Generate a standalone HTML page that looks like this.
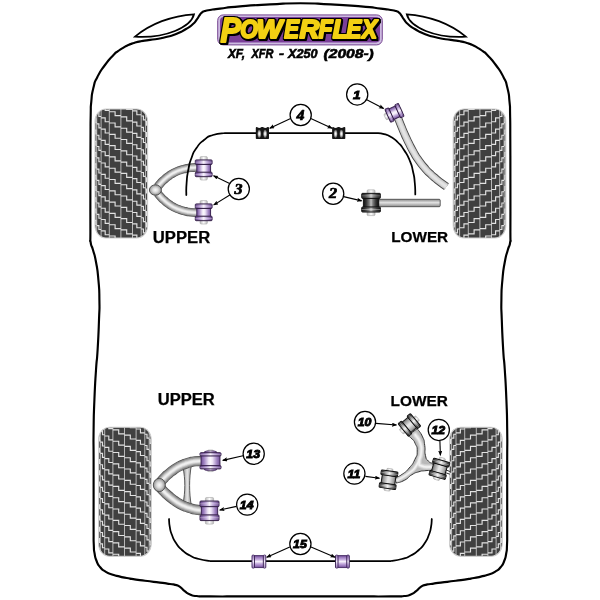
<!DOCTYPE html>
<html lang="en"><head><meta charset="utf-8"><title>Powerflex XF, XFR - X250 (2008-)</title>
<style>
html,body{margin:0;padding:0;background:#fff;}
body{width:600px;height:600px;overflow:hidden;}
svg{display:block;will-change:transform;}
text{font-family:"Liberation Sans",sans-serif;}
</style></head><body>
<svg width="600" height="600" viewBox="0 0 600 600">
<defs>
<linearGradient id="gP" x1="0" x2="1" y1="0" y2="0">
 <stop offset="0" stop-color="#5a3d7e"/><stop offset=".13" stop-color="#8462a8"/><stop offset=".32" stop-color="#b9a0d5"/>
 <stop offset=".5" stop-color="#f7f2fc"/><stop offset=".68" stop-color="#b9a0d5"/><stop offset=".87" stop-color="#8462a8"/>
 <stop offset="1" stop-color="#5a3d7e"/></linearGradient>
<linearGradient id="gPv" x1="0" x2="0" y1="0" y2="1">
 <stop offset="0" stop-color="#5d3f7c"/><stop offset=".18" stop-color="#8763a8"/>
 <stop offset=".5" stop-color="#ece2f6"/><stop offset=".82" stop-color="#8763a8"/>
 <stop offset="1" stop-color="#5d3f7c"/></linearGradient>
<linearGradient id="gD" x1="0" x2="1" y1="0" y2="0">
 <stop offset="0" stop-color="#141414"/><stop offset=".11" stop-color="#404040"/><stop offset=".3" stop-color="#9c9c9c"/>
 <stop offset=".5" stop-color="#ededed"/><stop offset=".7" stop-color="#9c9c9c"/><stop offset=".89" stop-color="#404040"/>
 <stop offset="1" stop-color="#141414"/></linearGradient>
<linearGradient id="gDw" x1="0" x2="1" y1="0" y2="0">
 <stop offset="0" stop-color="#5e5e5e"/><stop offset=".14" stop-color="#9a9a9a"/><stop offset=".45" stop-color="#e8e8e8"/>
 <stop offset=".6" stop-color="#e0e0e0"/><stop offset=".86" stop-color="#a6a6a6"/><stop offset="1" stop-color="#6e6e6e"/></linearGradient>
<linearGradient id="gPw" x1="0" x2="1" y1="0" y2="0">
 <stop offset="0" stop-color="#6f4f95"/><stop offset=".16" stop-color="#a083c2"/><stop offset=".4" stop-color="#efe6f7"/>
 <stop offset=".5" stop-color="#fbf8fd"/><stop offset=".6" stop-color="#efe6f7"/><stop offset=".84" stop-color="#a083c2"/><stop offset="1" stop-color="#6f4f95"/></linearGradient>
<linearGradient id="gK" x1="0" x2="1" y1="0" y2="0">
 <stop offset="0" stop-color="#0e0e0e"/><stop offset=".18" stop-color="#343434"/><stop offset=".38" stop-color="#7c7c7c"/>
 <stop offset=".5" stop-color="#c4c4c4"/><stop offset=".62" stop-color="#7c7c7c"/><stop offset=".82" stop-color="#343434"/>
 <stop offset="1" stop-color="#0e0e0e"/></linearGradient>
<linearGradient id="gShine" x1="0" x2="0" y1="0" y2="1">
 <stop offset="0" stop-color="#000" stop-opacity=".35"/><stop offset=".3" stop-color="#fff" stop-opacity="0"/>
 <stop offset=".5" stop-color="#fff" stop-opacity=".38"/><stop offset=".7" stop-color="#fff" stop-opacity="0"/>
 <stop offset="1" stop-color="#000" stop-opacity=".35"/></linearGradient>
<radialGradient id="gB4" cx=".5" cy=".5" r=".5">
 <stop offset="0" stop-color="#ffffff"/><stop offset=".35" stop-color="#e0e0e0"/><stop offset=".75" stop-color="#7a7a7a"/>
 <stop offset="1" stop-color="#2a2a2a"/></radialGradient>
<linearGradient id="gPl" x1="0" x2="1" y1="0" y2="0">
 <stop offset="0" stop-color="#6c4a92"/><stop offset=".14" stop-color="#9a78bd"/><stop offset=".32" stop-color="#c4aadd"/>
 <stop offset=".5" stop-color="#f8f3fc"/><stop offset=".68" stop-color="#c4aadd"/><stop offset=".86" stop-color="#9a78bd"/>
 <stop offset="1" stop-color="#6c4a92"/></linearGradient>
<linearGradient id="gS" x1="0" x2="1" y1="0" y2="0">
 <stop offset="0" stop-color="#b8b8b8"/><stop offset=".5" stop-color="#ffffff"/>
 <stop offset="1" stop-color="#b8b8b8"/></linearGradient>
<linearGradient id="gBar" x1="0" x2="0" y1="0" y2="1">
 <stop offset="0" stop-color="#8a8a8a"/><stop offset=".45" stop-color="#e2e2e2"/>
 <stop offset="1" stop-color="#8a8a8a"/></linearGradient>
<radialGradient id="gBall" cx=".5" cy=".5" r=".62">
 <stop offset="0" stop-color="#fafafa"/><stop offset=".35" stop-color="#dcdcdc"/><stop offset=".7" stop-color="#a2a2a2"/>
 <stop offset="1" stop-color="#5a5a5a"/></radialGradient>
<linearGradient id="gY" x1="0" x2="1" y1="0" y2="0">
 <stop offset="0" stop-color="#8d8d8d"/><stop offset=".5" stop-color="#e6e6e6"/>
 <stop offset="1" stop-color="#9a9a9a"/></linearGradient>
<pattern id="tread" width="23.4" height="11.5" patternUnits="userSpaceOnUse" patternTransform="translate(106.4,132)">
 <rect width="23.4" height="11.5" fill="#414141"/>
 <path d="M3,0V11.5M14.7,0V11.5M3,1H8V4.7H14.7M14.7,6.75H20.3V10.45H23.4M0,10.45H3" fill="none" stroke="#d6d6d6" stroke-width="1.25"/>
</pattern>
<pattern id="treadR" width="23.4" height="11.5" patternUnits="userSpaceOnUse" patternTransform="translate(494.4,132) scale(-1,1)">
 <rect width="23.4" height="11.5" fill="#414141"/>
 <path d="M3,0V11.5M14.7,0V11.5M3,1H8V4.7H14.7M14.7,6.75H20.3V10.45H23.4M0,10.45H3" fill="none" stroke="#d6d6d6" stroke-width="1.25"/>
</pattern>
<pattern id="tread2" width="23.4" height="11.5" patternUnits="userSpaceOnUse" patternTransform="translate(109.9,450)">
 <rect width="23.4" height="11.5" fill="#414141"/>
 <path d="M3,0V11.5M14.7,0V11.5M3,1H8V4.7H14.7M14.7,6.75H20.3V10.45H23.4M0,10.45H3" fill="none" stroke="#d6d6d6" stroke-width="1.25"/>
</pattern>
<pattern id="tread2R" width="23.4" height="11.5" patternUnits="userSpaceOnUse" patternTransform="translate(490.9,450) scale(-1,1)">
 <rect width="23.4" height="11.5" fill="#414141"/>
 <path d="M3,0V11.5M14.7,0V11.5M3,1H8V4.7H14.7M14.7,6.75H20.3V10.45H23.4M0,10.45H3" fill="none" stroke="#d6d6d6" stroke-width="1.25"/>
</pattern>
<marker id="ah" markerWidth="6" markerHeight="5" refX="4.6" refY="2.1" orient="auto" markerUnits="userSpaceOnUse">
 <path d="M0,0L5.4,2.1L0,4.2L1,2.1Z" fill="#000"/></marker>
</defs>
<rect width="600" height="600" fill="#fff"/>

<path d="M300.40,3.20 C280.13,3.20 290.13,3.33 270.00,4.40 C249.87,5.47 256.67,5.00 240.00,6.40 C223.33,7.80 230.00,7.40 220.00,8.60 C210.00,9.80 215.10,9.17 210.00,10.00 C204.90,10.83 207.53,10.13 204.70,11.10 C201.87,12.07 203.30,11.37 201.50,12.90 C199.70,14.43 200.90,13.43 199.30,15.70 C197.70,17.97 198.90,16.83 196.70,19.70 C194.50,22.57 196.27,21.20 192.70,24.30 C189.13,27.40 191.33,25.87 186.00,29.00 C180.67,32.13 184.27,30.80 176.70,33.70 C169.13,36.60 172.20,35.63 163.30,37.70 C154.40,39.77 157.53,38.70 150.00,39.90 C142.47,41.10 146.03,40.27 140.70,41.30 C135.37,42.33 137.90,41.83 134.00,43.00 C130.10,44.17 132.50,43.27 129.00,44.80 C125.50,46.33 127.17,45.47 123.50,47.60 C119.83,49.73 121.40,48.67 118.00,51.20 C114.60,53.73 117.63,50.60 113.30,55.20 C108.97,59.80 110.27,57.83 105.00,65.00 C99.73,72.17 101.40,68.93 97.50,76.70 C93.60,84.47 95.37,79.97 93.30,88.30 C91.23,96.63 92.17,92.80 91.30,101.70 C90.43,110.60 90.97,102.23 90.70,115.00 C90.43,127.77 90.60,118.33 90.50,140.00 C90.40,161.67 90.43,150.00 90.40,180.00 C90.37,210.00 90.33,209.33 90.40,230.00 C90.47,250.67 89.73,235.33 90.60,242.00 C91.47,248.67 91.20,243.33 93.00,250.00 C94.80,256.67 94.20,252.00 96.00,262.00 C97.80,272.00 97.27,267.33 98.40,280.00 C99.53,292.67 99.20,286.67 99.40,300.00 C99.60,313.33 99.60,303.33 99.00,320.00 C98.40,336.67 98.60,333.33 97.60,350.00 C96.60,366.67 97.07,353.33 96.00,370.00 C94.93,386.67 95.20,380.00 94.40,400.00 C93.60,420.00 93.87,410.00 93.60,430.00 C93.33,450.00 93.60,436.67 93.60,460.00 C93.60,483.33 93.60,476.67 93.60,500.00 C93.60,523.33 93.53,515.00 93.60,530.00 C93.67,545.00 93.47,537.17 93.80,545.00 C94.13,552.83 93.67,548.17 94.60,553.50 C95.53,558.83 94.73,556.43 96.60,561.00 C98.47,565.57 97.23,563.67 100.20,567.20 C103.17,570.73 101.57,569.20 105.50,571.60 C109.43,574.00 107.17,572.73 112.00,574.40 C116.83,576.07 114.00,575.20 120.00,576.60 C126.00,578.00 121.67,577.20 130.00,578.60 C138.33,580.00 135.00,579.47 145.00,580.80 C155.00,582.13 151.67,581.53 160.00,582.60 C168.33,583.67 164.90,583.23 170.00,584.00 C175.10,584.77 171.97,583.97 175.30,584.90 C178.63,585.83 176.87,584.70 180.00,586.80 C183.13,588.90 181.37,588.63 184.70,591.20 C188.03,593.77 186.00,592.90 190.00,594.50 C194.00,596.10 190.03,595.37 196.70,596.00 C203.37,596.63 192.23,596.27 210.00,596.40 C227.77,596.53 219.87,596.40 250.00,596.40 C280.13,596.40 266.80,596.40 300.40,596.40 C334.00,596.40 320.67,596.40 350.80,596.40 C380.93,596.40 373.03,596.53 390.80,596.40 C408.57,596.27 397.43,596.63 404.10,596.00 C410.77,595.37 406.80,596.10 410.80,594.50 C414.80,592.90 412.77,593.77 416.10,591.20 C419.43,588.63 417.67,588.90 420.80,586.80 C423.93,584.70 422.17,585.83 425.50,584.90 C428.83,583.97 425.70,584.77 430.80,584.00 C435.90,583.23 432.47,583.67 440.80,582.60 C449.13,581.53 445.80,582.13 455.80,580.80 C465.80,579.47 462.47,580.00 470.80,578.60 C479.13,577.20 474.80,578.00 480.80,576.60 C486.80,575.20 483.97,576.07 488.80,574.40 C493.63,572.73 491.37,574.00 495.30,571.60 C499.23,569.20 497.63,570.73 500.60,567.20 C503.57,563.67 502.33,565.57 504.20,561.00 C506.07,556.43 505.27,558.83 506.20,553.50 C507.13,548.17 506.67,552.83 507.00,545.00 C507.33,537.17 507.13,545.00 507.20,530.00 C507.27,515.00 507.20,523.33 507.20,500.00 C507.20,476.67 507.20,483.33 507.20,460.00 C507.20,436.67 507.47,450.00 507.20,430.00 C506.93,410.00 507.20,420.00 506.40,400.00 C505.60,380.00 505.87,386.67 504.80,370.00 C503.73,353.33 504.20,366.67 503.20,350.00 C502.20,333.33 502.40,336.67 501.80,320.00 C501.20,303.33 501.20,313.33 501.40,300.00 C501.60,286.67 501.27,292.67 502.40,280.00 C503.53,267.33 503.00,272.00 504.80,262.00 C506.60,252.00 506.00,256.67 507.80,250.00 C509.60,243.33 509.33,248.67 510.20,242.00 C511.07,235.33 510.33,250.67 510.40,230.00 C510.47,209.33 510.43,210.00 510.40,180.00 C510.37,150.00 510.40,161.67 510.30,140.00 C510.20,118.33 510.37,127.77 510.10,115.00 C509.83,102.23 510.37,110.60 509.50,101.70 C508.63,92.80 509.57,96.63 507.50,88.30 C505.43,79.97 507.20,84.47 503.30,76.70 C499.40,68.93 501.07,72.17 495.80,65.00 C490.53,57.83 491.83,59.80 487.50,55.20 C483.17,50.60 486.20,53.73 482.80,51.20 C479.40,48.67 480.97,49.73 477.30,47.60 C473.63,45.47 475.30,46.33 471.80,44.80 C468.30,43.27 470.70,44.17 466.80,43.00 C462.90,41.83 465.43,42.33 460.10,41.30 C454.77,40.27 458.33,41.10 450.80,39.90 C443.27,38.70 446.40,39.77 437.50,37.70 C428.60,35.63 431.67,36.60 424.10,33.70 C416.53,30.80 420.13,32.13 414.80,29.00 C409.47,25.87 411.67,27.40 408.10,24.30 C404.53,21.20 406.30,22.57 404.10,19.70 C401.90,16.83 403.10,17.97 401.50,15.70 C399.90,13.43 401.10,14.43 399.30,12.90 C397.50,11.37 398.93,12.07 396.10,11.10 C393.27,10.13 395.90,10.83 390.80,10.00 C385.70,9.17 390.80,9.80 380.80,8.60 C370.80,7.40 377.47,7.80 360.80,6.40 C344.13,5.00 350.93,5.47 330.80,4.40 C310.67,3.33 320.67,3.20 300.40,3.20Z" fill="none" stroke="#000" stroke-width="2.15" stroke-linejoin="round"/>
<path d="M135.0,36.7 C150.0,24 172.0,15.5 194.0,14.3 C191.0,27 166.0,38.5 135.0,36.7Z" fill="#fff" stroke="#000" stroke-width="1.75" stroke-linejoin="miter" stroke-miterlimit="6"/>
<path d="M465.8,36.7 C450.8,24 428.8,15.5 406.8,14.3 C409.8,27 434.8,38.5 465.8,36.7Z" fill="#fff" stroke="#000" stroke-width="1.75" stroke-linejoin="miter" stroke-miterlimit="6"/>
<defs>
<clipPath id="tyc"><rect x="0" y="0" width="52.6" height="129.0" rx="11" ry="12.5"/></clipPath>
<g id="tyre">
<rect x="0" y="0" width="52.6" height="129.0" rx="11" ry="12.5" fill="#404040"/>
<filter id="tb" x="-5%" y="-5%" width="110%" height="110%"><feGaussianBlur stdDeviation="0.38"/></filter>
<g clip-path="url(#tyc)" fill="none"><g filter="url(#tb)">
<path d="M1.70,0V129.0M6.10,0V129.0M14.30,0V129.0M25.90,0V129.0M37.50,0V129.0M46.20,0V129.0M50.60,0V129.0" stroke="#b8b8b8" stroke-width="1"/>
<path d="M0.00,-1.60H0.85V2.30H1.70M0.00,9.70H0.85V13.60H1.70M0.00,21.00H0.85V24.90H1.70M0.00,32.30H0.85V36.20H1.70M0.00,43.60H0.85V47.50H1.70M0.00,54.90H0.85V58.80H1.70M0.00,66.20H0.85V70.10H1.70M0.00,77.50H0.85V81.40H1.70M0.00,88.80H0.85V92.70H1.70M0.00,100.10H0.85V104.00H1.70M0.00,111.40H0.85V115.30H1.70M0.00,122.70H0.85V126.60H1.70M0.00,134.00H0.85V137.90H1.70M1.70,-7.70H3.90V-3.80H6.10M1.70,3.60H3.90V7.50H6.10M1.70,14.90H3.90V18.80H6.10M1.70,26.20H3.90V30.10H6.10M1.70,37.50H3.90V41.40H6.10M1.70,48.80H3.90V52.70H6.10M1.70,60.10H3.90V64.00H6.10M1.70,71.40H3.90V75.30H6.10M1.70,82.70H3.90V86.60H6.10M1.70,94.00H3.90V97.90H6.10M1.70,105.30H3.90V109.20H6.10M1.70,116.60H3.90V120.50H6.10M1.70,127.90H3.90V131.80H6.10M6.10,-2.50H10.20V1.40H14.30M6.10,8.80H10.20V12.70H14.30M6.10,20.10H10.20V24.00H14.30M6.10,31.40H10.20V35.30H14.30M6.10,42.70H10.20V46.60H14.30M6.10,54.00H10.20V57.90H14.30M6.10,65.30H10.20V69.20H14.30M6.10,76.60H10.20V80.50H14.30M6.10,87.90H10.20V91.80H14.30M6.10,99.20H10.20V103.10H14.30M6.10,110.50H10.20V114.40H14.30M6.10,121.80H10.20V125.70H14.30M6.10,133.10H10.20V137.00H14.30M14.30,-8.60H20.10V-4.70H25.90M14.30,2.70H20.10V6.60H25.90M14.30,14.00H20.10V17.90H25.90M14.30,25.30H20.10V29.20H25.90M14.30,36.60H20.10V40.50H25.90M14.30,47.90H20.10V51.80H25.90M14.30,59.20H20.10V63.10H25.90M14.30,70.50H20.10V74.40H25.90M14.30,81.80H20.10V85.70H25.90M14.30,93.10H20.10V97.00H25.90M14.30,104.40H20.10V108.30H25.90M14.30,115.70H20.10V119.60H25.90M14.30,127.00H20.10V130.90H25.90M25.90,-3.40H31.70V0.50H37.50M25.90,7.90H31.70V11.80H37.50M25.90,19.20H31.70V23.10H37.50M25.90,30.50H31.70V34.40H37.50M25.90,41.80H31.70V45.70H37.50M25.90,53.10H31.70V57.00H37.50M25.90,64.40H31.70V68.30H37.50M25.90,75.70H31.70V79.60H37.50M25.90,87.00H31.70V90.90H37.50M25.90,98.30H31.70V102.20H37.50M25.90,109.60H31.70V113.50H37.50M25.90,120.90H31.70V124.80H37.50M25.90,132.20H31.70V136.10H37.50M37.50,-9.50H41.85V-5.60H46.20M37.50,1.80H41.85V5.70H46.20M37.50,13.10H41.85V17.00H46.20M37.50,24.40H41.85V28.30H46.20M37.50,35.70H41.85V39.60H46.20M37.50,47.00H41.85V50.90H46.20M37.50,58.30H41.85V62.20H46.20M37.50,69.60H41.85V73.50H46.20M37.50,80.90H41.85V84.80H46.20M37.50,92.20H41.85V96.10H46.20M37.50,103.50H41.85V107.40H46.20M37.50,114.80H41.85V118.70H46.20M37.50,126.10H41.85V130.00H46.20M46.20,-4.30H48.40V-0.40H50.60M46.20,7.00H48.40V10.90H50.60M46.20,18.30H48.40V22.20H50.60M46.20,29.60H48.40V33.50H50.60M46.20,40.90H48.40V44.80H50.60M46.20,52.20H48.40V56.10H50.60M46.20,63.50H48.40V67.40H50.60M46.20,74.80H48.40V78.70H50.60M46.20,86.10H48.40V90.00H50.60M46.20,97.40H48.40V101.30H50.60M46.20,108.70H48.40V112.60H50.60M46.20,120.00H48.40V123.90H50.60M46.20,131.30H48.40V135.20H50.60M50.60,-10.40H51.60V-6.50H52.60M50.60,0.90H51.60V4.80H52.60M50.60,12.20H51.60V16.10H52.60M50.60,23.50H51.60V27.40H52.60M50.60,34.80H51.60V38.70H52.60M50.60,46.10H51.60V50.00H52.60M50.60,57.40H51.60V61.30H52.60M50.60,68.70H51.60V72.60H52.60M50.60,80.00H51.60V83.90H52.60M50.60,91.30H51.60V95.20H52.60M50.60,102.60H51.60V106.50H52.60M50.60,113.90H51.60V117.80H52.60M50.60,125.20H51.60V129.10H52.60" stroke="#e2e2e2" stroke-width="1.15"/>
</g></g>
<rect x="0" y="0" width="52.6" height="129.0" rx="11" ry="12.5" fill="none" stroke="#cfcfcf" stroke-width="1.1"/>
</g>
</defs>
<use href="#tyre" x="95" y="109"/>
<use href="#tyre" transform="translate(505.8,109) scale(-1,1)"/>
<use href="#tyre" x="98.6" y="427.2"/>
<use href="#tyre" transform="translate(502.2,427.2) scale(-1,1)"/>
<path d="M169.00,519.00 C169.27,521.67 168.80,521.67 169.80,527.00 C170.80,532.33 169.93,529.67 172.00,535.00 C174.07,540.33 172.67,538.00 176.00,543.00 C179.33,548.00 177.33,545.83 182.00,550.00 C186.67,554.17 184.33,552.50 190.00,555.50 C195.67,558.50 192.33,557.17 199.00,559.00 C205.67,560.83 206.33,560.33 210.00,561.00 L390.8,561 L390.80,561.00 C394.47,560.33 395.13,560.83 401.80,559.00 C408.47,557.17 405.13,558.50 410.80,555.50 C416.47,552.50 414.13,554.17 418.80,550.00 C423.47,545.83 421.47,548.00 424.80,543.00 C428.13,538.00 426.73,540.33 428.80,535.00 C430.87,529.67 430.00,532.33 431.00,527.00 C432.00,521.67 431.53,521.67 431.80,519.00" fill="none" stroke="#000" stroke-width="1.75" stroke-linecap="round"/>
<path d="M157.50,187.00 C158.60,185.67 158.47,185.53 160.80,183.00 C163.13,180.47 161.67,181.87 164.50,179.40 C167.33,176.93 165.97,177.90 169.30,175.60 C172.63,173.30 171.00,174.27 174.50,172.50 C178.00,170.73 176.20,171.57 179.80,170.30 C183.40,169.03 181.73,169.53 185.30,168.70 C188.87,167.87 186.27,168.27 190.50,167.80 C194.73,167.33 195.50,167.47 198.00,167.30" fill="none" stroke="#505050" stroke-width="8.60" stroke-linecap="butt"/>
<path d="M157.50,187.00 C158.60,185.67 158.47,185.53 160.80,183.00 C163.13,180.47 161.67,181.87 164.50,179.40 C167.33,176.93 165.97,177.90 169.30,175.60 C172.63,173.30 171.00,174.27 174.50,172.50 C178.00,170.73 176.20,171.57 179.80,170.30 C183.40,169.03 181.73,169.53 185.30,168.70 C188.87,167.87 186.27,168.27 190.50,167.80 C194.73,167.33 195.50,167.47 198.00,167.30" fill="none" stroke="#8a8a8a" stroke-width="7.20" stroke-linecap="butt"/>
<path d="M157.50,187.00 C158.60,185.67 158.47,185.53 160.80,183.00 C163.13,180.47 161.67,181.87 164.50,179.40 C167.33,176.93 165.97,177.90 169.30,175.60 C172.63,173.30 171.00,174.27 174.50,172.50 C178.00,170.73 176.20,171.57 179.80,170.30 C183.40,169.03 181.73,169.53 185.30,168.70 C188.87,167.87 186.27,168.27 190.50,167.80 C194.73,167.33 195.50,167.47 198.00,167.30" fill="none" stroke="#a8a8a8" stroke-width="5.68" stroke-linecap="butt"/>
<path d="M157.50,187.00 C158.60,185.67 158.47,185.53 160.80,183.00 C163.13,180.47 161.67,181.87 164.50,179.40 C167.33,176.93 165.97,177.90 169.30,175.60 C172.63,173.30 171.00,174.27 174.50,172.50 C178.00,170.73 176.20,171.57 179.80,170.30 C183.40,169.03 181.73,169.53 185.30,168.70 C188.87,167.87 186.27,168.27 190.50,167.80 C194.73,167.33 195.50,167.47 198.00,167.30" fill="none" stroke="#c4c4c4" stroke-width="4.30" stroke-linecap="butt"/>
<path d="M157.50,187.00 C158.60,185.67 158.47,185.53 160.80,183.00 C163.13,180.47 161.67,181.87 164.50,179.40 C167.33,176.93 165.97,177.90 169.30,175.60 C172.63,173.30 171.00,174.27 174.50,172.50 C178.00,170.73 176.20,171.57 179.80,170.30 C183.40,169.03 181.73,169.53 185.30,168.70 C188.87,167.87 186.27,168.27 190.50,167.80 C194.73,167.33 195.50,167.47 198.00,167.30" fill="none" stroke="#dcdcdc" stroke-width="2.92" stroke-linecap="butt"/>
<path d="M157.50,187.00 C158.60,185.67 158.47,185.53 160.80,183.00 C163.13,180.47 161.67,181.87 164.50,179.40 C167.33,176.93 165.97,177.90 169.30,175.60 C172.63,173.30 171.00,174.27 174.50,172.50 C178.00,170.73 176.20,171.57 179.80,170.30 C183.40,169.03 181.73,169.53 185.30,168.70 C188.87,167.87 186.27,168.27 190.50,167.80 C194.73,167.33 195.50,167.47 198.00,167.30" fill="none" stroke="#efefef" stroke-width="1.55" stroke-linecap="butt"/>
<path d="M157.50,193.00 C158.60,194.33 158.47,194.47 160.80,197.00 C163.13,199.53 161.67,198.13 164.50,200.60 C167.33,203.07 165.97,202.10 169.30,204.40 C172.63,206.70 171.00,205.73 174.50,207.50 C178.00,209.27 176.20,208.43 179.80,209.70 C183.40,210.97 181.73,210.47 185.30,211.30 C188.87,212.13 186.27,211.73 190.50,212.20 C194.73,212.67 195.50,212.53 198.00,212.70" fill="none" stroke="#505050" stroke-width="8.60" stroke-linecap="butt"/>
<path d="M157.50,193.00 C158.60,194.33 158.47,194.47 160.80,197.00 C163.13,199.53 161.67,198.13 164.50,200.60 C167.33,203.07 165.97,202.10 169.30,204.40 C172.63,206.70 171.00,205.73 174.50,207.50 C178.00,209.27 176.20,208.43 179.80,209.70 C183.40,210.97 181.73,210.47 185.30,211.30 C188.87,212.13 186.27,211.73 190.50,212.20 C194.73,212.67 195.50,212.53 198.00,212.70" fill="none" stroke="#8a8a8a" stroke-width="7.20" stroke-linecap="butt"/>
<path d="M157.50,193.00 C158.60,194.33 158.47,194.47 160.80,197.00 C163.13,199.53 161.67,198.13 164.50,200.60 C167.33,203.07 165.97,202.10 169.30,204.40 C172.63,206.70 171.00,205.73 174.50,207.50 C178.00,209.27 176.20,208.43 179.80,209.70 C183.40,210.97 181.73,210.47 185.30,211.30 C188.87,212.13 186.27,211.73 190.50,212.20 C194.73,212.67 195.50,212.53 198.00,212.70" fill="none" stroke="#a8a8a8" stroke-width="5.68" stroke-linecap="butt"/>
<path d="M157.50,193.00 C158.60,194.33 158.47,194.47 160.80,197.00 C163.13,199.53 161.67,198.13 164.50,200.60 C167.33,203.07 165.97,202.10 169.30,204.40 C172.63,206.70 171.00,205.73 174.50,207.50 C178.00,209.27 176.20,208.43 179.80,209.70 C183.40,210.97 181.73,210.47 185.30,211.30 C188.87,212.13 186.27,211.73 190.50,212.20 C194.73,212.67 195.50,212.53 198.00,212.70" fill="none" stroke="#c4c4c4" stroke-width="4.30" stroke-linecap="butt"/>
<path d="M157.50,193.00 C158.60,194.33 158.47,194.47 160.80,197.00 C163.13,199.53 161.67,198.13 164.50,200.60 C167.33,203.07 165.97,202.10 169.30,204.40 C172.63,206.70 171.00,205.73 174.50,207.50 C178.00,209.27 176.20,208.43 179.80,209.70 C183.40,210.97 181.73,210.47 185.30,211.30 C188.87,212.13 186.27,211.73 190.50,212.20 C194.73,212.67 195.50,212.53 198.00,212.70" fill="none" stroke="#dcdcdc" stroke-width="2.92" stroke-linecap="butt"/>
<path d="M157.50,193.00 C158.60,194.33 158.47,194.47 160.80,197.00 C163.13,199.53 161.67,198.13 164.50,200.60 C167.33,203.07 165.97,202.10 169.30,204.40 C172.63,206.70 171.00,205.73 174.50,207.50 C178.00,209.27 176.20,208.43 179.80,209.70 C183.40,210.97 181.73,210.47 185.30,211.30 C188.87,212.13 186.27,211.73 190.50,212.20 C194.73,212.67 195.50,212.53 198.00,212.70" fill="none" stroke="#efefef" stroke-width="1.55" stroke-linecap="butt"/>
<ellipse cx="155.4" cy="190" rx="6" ry="5.2" fill="url(#gBall)" stroke="#4a4a4a" stroke-width=".9"/>
<g transform="translate(203.70,168.30)">
<rect x="-3.65" y="-11.70" width="7.30" height="23.40" rx="1.2" fill="url(#gS)" stroke="#a8a8a8" stroke-width=".6"/>
<rect x="-6.89" y="-4.16" width="13.78" height="8.33" fill="url(#gPw)" stroke="#38204f" stroke-width=".95"/>
<rect x="-8.40" y="-8.40" width="16.80" height="4.54" rx=".9" fill="url(#gP)" stroke="#38204f" stroke-width=".95"/>
<rect x="-8.40" y="3.86" width="16.80" height="4.54" rx=".9" fill="url(#gP)" stroke="#38204f" stroke-width=".95"/>
<rect x="-8.40" y="-8.40" width="16.80" height="4.54" rx="1.2" fill="url(#gShine)"/>
<rect x="-8.40" y="3.86" width="16.80" height="4.54" rx="1.2" fill="url(#gShine)"/>
</g>
<g transform="translate(203.70,212.30)">
<rect x="-3.65" y="-11.70" width="7.30" height="23.40" rx="1.2" fill="url(#gS)" stroke="#a8a8a8" stroke-width=".6"/>
<rect x="-6.89" y="-4.16" width="13.78" height="8.33" fill="url(#gPw)" stroke="#38204f" stroke-width=".95"/>
<rect x="-8.40" y="-8.40" width="16.80" height="4.54" rx=".9" fill="url(#gP)" stroke="#38204f" stroke-width=".95"/>
<rect x="-8.40" y="3.86" width="16.80" height="4.54" rx=".9" fill="url(#gP)" stroke="#38204f" stroke-width=".95"/>
<rect x="-8.40" y="-8.40" width="16.80" height="4.54" rx="1.2" fill="url(#gShine)"/>
<rect x="-8.40" y="3.86" width="16.80" height="4.54" rx="1.2" fill="url(#gShine)"/>
</g>
<line x1="229.6" y1="183.4" x2="213.6" y2="175.8" stroke="#000" stroke-width="1.1" marker-end="url(#ah)"/>
<line x1="229.8" y1="195.0" x2="213.8" y2="204.9" stroke="#000" stroke-width="1.1" marker-end="url(#ah)"/>
<circle cx="238.8" cy="189.0" r="10.6" fill="#fff" stroke="#000" stroke-width="1.25"/>
<text transform="translate(238.50,193.60) scale(1.18,1)" text-anchor="middle" font-size="13.6" font-weight="bold" font-style="italic" stroke="#000" stroke-width=".7" stroke-linejoin="round" style="font-family:'Liberation Serif',serif">3</text>
<path d="M186.30,195.00 C186.40,191.00 185.93,191.33 186.60,183.00 C187.27,174.67 186.67,178.33 188.30,170.00 C189.93,161.67 188.77,165.33 191.50,158.00 C194.23,150.67 192.33,154.00 196.50,148.00 C200.67,142.00 198.50,144.33 204.00,140.00 C209.50,135.67 206.00,137.33 213.00,135.00 C220.00,132.67 221.00,133.67 225.00,133.00 L376,133 L376.00,133.00 C378.67,133.40 379.00,132.87 384.00,134.20 C389.00,135.53 386.33,134.23 391.00,137.00 C395.67,139.77 393.67,138.17 398.00,142.50 C402.33,146.83 400.17,144.17 404.00,150.00 C407.83,155.83 406.50,152.83 409.50,160.00 C412.50,167.17 411.23,163.83 413.00,171.50 C414.77,179.17 414.03,175.33 414.80,183.00 C415.57,190.67 415.13,190.67 415.30,194.50" fill="none" stroke="#000" stroke-width="1.75" stroke-linecap="round"/>
<g transform="translate(262.4,133.1)">
<rect x="-6.6" y="-6" width="13.2" height="12" rx=".8" fill="#161616"/>
<ellipse cx="-3.1" cy=".7" rx="2.1" ry="4.3" fill="url(#gB4)"/>
<ellipse cx="2.7" cy=".7" rx="2.1" ry="4.3" fill="url(#gB4)"/>
<ellipse cx="-3.1" cy="-6.3" rx="2.3" ry="1.1" fill="#fff"/>
<ellipse cx="2.9" cy="-6.3" rx="2.3" ry="1.1" fill="#fff"/>
</g>
<g transform="translate(338.7,133.1)">
<rect x="-6.6" y="-6" width="13.2" height="12" rx=".8" fill="#161616"/>
<ellipse cx="-3.1" cy=".7" rx="2.1" ry="4.3" fill="url(#gB4)"/>
<ellipse cx="2.7" cy=".7" rx="2.1" ry="4.3" fill="url(#gB4)"/>
<ellipse cx="-3.1" cy="-6.3" rx="2.3" ry="1.1" fill="#fff"/>
<ellipse cx="2.9" cy="-6.3" rx="2.3" ry="1.1" fill="#fff"/>
</g>
<line x1="290.6" y1="118.6" x2="269.8" y2="128.2" stroke="#000" stroke-width="1.1" marker-end="url(#ah)"/>
<line x1="310.8" y1="118.6" x2="332.0" y2="128.2" stroke="#000" stroke-width="1.1" marker-end="url(#ah)"/>
<circle cx="300.7" cy="115.0" r="10.6" fill="#fff" stroke="#000" stroke-width="1.25"/>
<text transform="translate(300.40,119.60) scale(1.18,1)" text-anchor="middle" font-size="13.6" font-weight="bold" font-style="italic" stroke="#000" stroke-width=".7" stroke-linejoin="round" style="font-family:'Liberation Serif',serif">4</text>
<path d="M397.80,117.50 C399.07,120.67 399.20,121.17 401.60,127.00 C404.00,132.83 402.60,129.67 405.00,135.00 C407.40,140.33 406.03,137.43 408.80,143.00 C411.57,148.57 409.97,145.87 413.30,151.70 C416.63,157.53 414.90,154.97 418.80,160.50 C422.70,166.03 421.17,163.87 425.00,168.30 C428.83,172.73 426.70,170.33 430.30,173.80 C433.90,177.27 432.23,175.70 435.80,178.70 C439.37,181.70 437.47,180.13 441.00,182.80 C444.53,185.47 444.60,185.40 446.40,186.70" fill="none" stroke="#464646" stroke-width="8.20"/>
<path d="M397.80,117.50 C399.07,120.67 399.20,121.17 401.60,127.00 C404.00,132.83 402.60,129.67 405.00,135.00 C407.40,140.33 406.03,137.43 408.80,143.00 C411.57,148.57 409.97,145.87 413.30,151.70 C416.63,157.53 414.90,154.97 418.80,160.50 C422.70,166.03 421.17,163.87 425.00,168.30 C428.83,172.73 426.70,170.33 430.30,173.80 C433.90,177.27 432.23,175.70 435.80,178.70 C439.37,181.70 437.47,180.13 441.00,182.80 C444.53,185.47 444.60,185.40 446.40,186.70" fill="none" stroke="#c4c4c4" stroke-width="6.40"/>
<path d="M397.80,117.50 C399.07,120.67 399.20,121.17 401.60,127.00 C404.00,132.83 402.60,129.67 405.00,135.00 C407.40,140.33 406.03,137.43 408.80,143.00 C411.57,148.57 409.97,145.87 413.30,151.70 C416.63,157.53 414.90,154.97 418.80,160.50 C422.70,166.03 421.17,163.87 425.00,168.30 C428.83,172.73 426.70,170.33 430.30,173.80 C433.90,177.27 432.23,175.70 435.80,178.70 C439.37,181.70 437.47,180.13 441.00,182.80 C444.53,185.47 444.60,185.40 446.40,186.70" fill="none" stroke="#d6d6d6" stroke-width="4.60"/>
<path d="M397.80,117.50 C399.07,120.67 399.20,121.17 401.60,127.00 C404.00,132.83 402.60,129.67 405.00,135.00 C407.40,140.33 406.03,137.43 408.80,143.00 C411.57,148.57 409.97,145.87 413.30,151.70 C416.63,157.53 414.90,154.97 418.80,160.50 C422.70,166.03 421.17,163.87 425.00,168.30 C428.83,172.73 426.70,170.33 430.30,173.80 C433.90,177.27 432.23,175.70 435.80,178.70 C439.37,181.70 437.47,180.13 441.00,182.80 C444.53,185.47 444.60,185.40 446.40,186.70" fill="none" stroke="#e4e4e4" stroke-width="2.60"/>
<g transform="translate(394.50,112.80) rotate(65.7)">
<rect x="-3.20" y="-7.60" width="6.40" height="18.00" rx="1.2" fill="url(#gS)" stroke="#a8a8a8" stroke-width=".6"/>
<rect x="-5.82" y="-3.70" width="11.64" height="7.41" fill="url(#gPw)" stroke="#38204f" stroke-width=".95"/>
<rect x="-7.10" y="-7.40" width="14.20" height="4.00" rx=".9" fill="url(#gP)" stroke="#38204f" stroke-width=".95"/>
<rect x="-7.10" y="3.40" width="14.20" height="4.00" rx=".9" fill="url(#gP)" stroke="#38204f" stroke-width=".95"/>
<rect x="-7.10" y="-7.40" width="14.20" height="4.00" rx="1.2" fill="url(#gShine)"/>
<rect x="-7.10" y="3.40" width="14.20" height="4.00" rx="1.2" fill="url(#gShine)"/>
</g>
<line x1="366.8" y1="99.8" x2="383.6" y2="108.4" stroke="#000" stroke-width="1.1" marker-end="url(#ah)"/>
<circle cx="357.2" cy="94.4" r="10.6" fill="#fff" stroke="#000" stroke-width="1.25"/>
<text transform="translate(356.70,98.59) scale(1.15,1)" text-anchor="middle" font-size="11.8" font-weight="bold" font-style="italic" stroke="#000" stroke-width=".9" stroke-linejoin="miter">1</text>
<rect x="378" y="199.3" width="62.2" height="7.4" rx="1" fill="url(#gBar)" stroke="#4c4c4c" stroke-width=".9"/>
<g transform="translate(371.05,202.70)">
<rect x="-4.00" y="-12.90" width="8.00" height="25.80" rx="1.2" fill="url(#gS)" stroke="#a8a8a8" stroke-width=".6"/>
<rect x="-7.67" y="-4.60" width="15.33" height="9.20" fill="url(#gK)" stroke="#111" stroke-width=".95"/>
<rect x="-9.35" y="-9.35" width="18.70" height="5.05" rx=".9" fill="url(#gK)" stroke="#111" stroke-width=".95"/>
<rect x="-9.35" y="4.30" width="18.70" height="5.05" rx=".9" fill="url(#gK)" stroke="#111" stroke-width=".95"/>
<rect x="-9.35" y="-9.35" width="18.70" height="5.05" rx="1.2" fill="url(#gShine)"/>
<rect x="-9.35" y="4.30" width="18.70" height="5.05" rx="1.2" fill="url(#gShine)"/>
</g>
<line x1="343.6" y1="196.6" x2="361.6" y2="200.9" stroke="#000" stroke-width="1.1" marker-end="url(#ah)"/>
<circle cx="333.2" cy="193.8" r="10.6" fill="#fff" stroke="#000" stroke-width="1.25"/>
<text transform="translate(332.90,198.40) scale(1.18,1)" text-anchor="middle" font-size="13.6" font-weight="bold" font-style="italic" stroke="#000" stroke-width=".7" stroke-linejoin="round" style="font-family:'Liberation Serif',serif">2</text>
<path d="M183,467.5 C185.4,479 185.4,492 183,503.5 L191.4,506 C189,493 189,478 191.4,465 Z" fill="url(#gY)" stroke="#4c4c4c" stroke-width=".9"/>
<path d="M160.50,482.20 C161.83,480.67 161.70,480.47 164.50,477.60 C167.30,474.73 165.67,476.30 168.90,473.60 C172.13,470.90 170.50,472.03 174.20,469.50 C177.90,466.97 176.40,467.87 180.00,466.00 C183.60,464.13 181.57,465.17 185.00,463.90 C188.43,462.63 186.80,463.07 190.30,462.20 C193.80,461.33 191.77,461.70 195.50,461.30 C199.23,460.90 199.50,461.10 201.50,461.00" fill="none" stroke="#505050" stroke-width="10.20" stroke-linecap="butt"/>
<path d="M160.50,482.20 C161.83,480.67 161.70,480.47 164.50,477.60 C167.30,474.73 165.67,476.30 168.90,473.60 C172.13,470.90 170.50,472.03 174.20,469.50 C177.90,466.97 176.40,467.87 180.00,466.00 C183.60,464.13 181.57,465.17 185.00,463.90 C188.43,462.63 186.80,463.07 190.30,462.20 C193.80,461.33 191.77,461.70 195.50,461.30 C199.23,460.90 199.50,461.10 201.50,461.00" fill="none" stroke="#8a8a8a" stroke-width="8.80" stroke-linecap="butt"/>
<path d="M160.50,482.20 C161.83,480.67 161.70,480.47 164.50,477.60 C167.30,474.73 165.67,476.30 168.90,473.60 C172.13,470.90 170.50,472.03 174.20,469.50 C177.90,466.97 176.40,467.87 180.00,466.00 C183.60,464.13 181.57,465.17 185.00,463.90 C188.43,462.63 186.80,463.07 190.30,462.20 C193.80,461.33 191.77,461.70 195.50,461.30 C199.23,460.90 199.50,461.10 201.50,461.00" fill="none" stroke="#a8a8a8" stroke-width="6.73" stroke-linecap="butt"/>
<path d="M160.50,482.20 C161.83,480.67 161.70,480.47 164.50,477.60 C167.30,474.73 165.67,476.30 168.90,473.60 C172.13,470.90 170.50,472.03 174.20,469.50 C177.90,466.97 176.40,467.87 180.00,466.00 C183.60,464.13 181.57,465.17 185.00,463.90 C188.43,462.63 186.80,463.07 190.30,462.20 C193.80,461.33 191.77,461.70 195.50,461.30 C199.23,460.90 199.50,461.10 201.50,461.00" fill="none" stroke="#c4c4c4" stroke-width="5.10" stroke-linecap="butt"/>
<path d="M160.50,482.20 C161.83,480.67 161.70,480.47 164.50,477.60 C167.30,474.73 165.67,476.30 168.90,473.60 C172.13,470.90 170.50,472.03 174.20,469.50 C177.90,466.97 176.40,467.87 180.00,466.00 C183.60,464.13 181.57,465.17 185.00,463.90 C188.43,462.63 186.80,463.07 190.30,462.20 C193.80,461.33 191.77,461.70 195.50,461.30 C199.23,460.90 199.50,461.10 201.50,461.00" fill="none" stroke="#dcdcdc" stroke-width="3.47" stroke-linecap="butt"/>
<path d="M160.50,482.20 C161.83,480.67 161.70,480.47 164.50,477.60 C167.30,474.73 165.67,476.30 168.90,473.60 C172.13,470.90 170.50,472.03 174.20,469.50 C177.90,466.97 176.40,467.87 180.00,466.00 C183.60,464.13 181.57,465.17 185.00,463.90 C188.43,462.63 186.80,463.07 190.30,462.20 C193.80,461.33 191.77,461.70 195.50,461.30 C199.23,460.90 199.50,461.10 201.50,461.00" fill="none" stroke="#efefef" stroke-width="1.84" stroke-linecap="butt"/>
<path d="M160.50,487.80 C161.77,489.20 161.57,489.27 164.30,492.00 C167.03,494.73 165.47,493.27 168.70,496.00 C171.93,498.73 170.30,497.53 174.00,500.20 C177.70,502.87 176.13,501.93 179.80,504.00 C183.47,506.07 181.53,505.00 185.00,506.40 C188.47,507.80 186.70,507.13 190.20,508.20 C193.70,509.27 191.73,508.90 195.50,509.60 C199.27,510.30 199.50,510.07 201.50,510.30" fill="none" stroke="#505050" stroke-width="10.20" stroke-linecap="butt"/>
<path d="M160.50,487.80 C161.77,489.20 161.57,489.27 164.30,492.00 C167.03,494.73 165.47,493.27 168.70,496.00 C171.93,498.73 170.30,497.53 174.00,500.20 C177.70,502.87 176.13,501.93 179.80,504.00 C183.47,506.07 181.53,505.00 185.00,506.40 C188.47,507.80 186.70,507.13 190.20,508.20 C193.70,509.27 191.73,508.90 195.50,509.60 C199.27,510.30 199.50,510.07 201.50,510.30" fill="none" stroke="#8a8a8a" stroke-width="8.80" stroke-linecap="butt"/>
<path d="M160.50,487.80 C161.77,489.20 161.57,489.27 164.30,492.00 C167.03,494.73 165.47,493.27 168.70,496.00 C171.93,498.73 170.30,497.53 174.00,500.20 C177.70,502.87 176.13,501.93 179.80,504.00 C183.47,506.07 181.53,505.00 185.00,506.40 C188.47,507.80 186.70,507.13 190.20,508.20 C193.70,509.27 191.73,508.90 195.50,509.60 C199.27,510.30 199.50,510.07 201.50,510.30" fill="none" stroke="#a8a8a8" stroke-width="6.73" stroke-linecap="butt"/>
<path d="M160.50,487.80 C161.77,489.20 161.57,489.27 164.30,492.00 C167.03,494.73 165.47,493.27 168.70,496.00 C171.93,498.73 170.30,497.53 174.00,500.20 C177.70,502.87 176.13,501.93 179.80,504.00 C183.47,506.07 181.53,505.00 185.00,506.40 C188.47,507.80 186.70,507.13 190.20,508.20 C193.70,509.27 191.73,508.90 195.50,509.60 C199.27,510.30 199.50,510.07 201.50,510.30" fill="none" stroke="#c4c4c4" stroke-width="5.10" stroke-linecap="butt"/>
<path d="M160.50,487.80 C161.77,489.20 161.57,489.27 164.30,492.00 C167.03,494.73 165.47,493.27 168.70,496.00 C171.93,498.73 170.30,497.53 174.00,500.20 C177.70,502.87 176.13,501.93 179.80,504.00 C183.47,506.07 181.53,505.00 185.00,506.40 C188.47,507.80 186.70,507.13 190.20,508.20 C193.70,509.27 191.73,508.90 195.50,509.60 C199.27,510.30 199.50,510.07 201.50,510.30" fill="none" stroke="#dcdcdc" stroke-width="3.47" stroke-linecap="butt"/>
<path d="M160.50,487.80 C161.77,489.20 161.57,489.27 164.30,492.00 C167.03,494.73 165.47,493.27 168.70,496.00 C171.93,498.73 170.30,497.53 174.00,500.20 C177.70,502.87 176.13,501.93 179.80,504.00 C183.47,506.07 181.53,505.00 185.00,506.40 C188.47,507.80 186.70,507.13 190.20,508.20 C193.70,509.27 191.73,508.90 195.50,509.60 C199.27,510.30 199.50,510.07 201.50,510.30" fill="none" stroke="#efefef" stroke-width="1.84" stroke-linecap="butt"/>
<ellipse cx="159.3" cy="485" rx="6" ry="6.6" fill="url(#gBall)" stroke="#4a4a4a" stroke-width=".9"/>
<g transform="translate(210.50,460.80)">
<rect x="-3.00" y="-10.80" width="6.00" height="21.60" rx="1.2" fill="url(#gS)" stroke="#a8a8a8" stroke-width=".6"/>
<rect x="-6.72" y="-9.80" width="13.44" height="19.60" rx="3" fill="url(#gP)" stroke="#38204f" stroke-width=".7"/>
<rect x="-9.45" y="-5.16" width="18.90" height="10.32" fill="url(#gPw)" stroke="#38204f" stroke-width=".95"/>
<rect x="-10.50" y="-8.10" width="21.00" height="3.24" rx=".9" fill="url(#gP)" stroke="#38204f" stroke-width=".95"/>
<rect x="-10.50" y="4.86" width="21.00" height="3.24" rx=".9" fill="url(#gP)" stroke="#38204f" stroke-width=".95"/>
<rect x="-10.50" y="-8.10" width="21.00" height="3.24" rx="1.2" fill="url(#gShine)"/>
<rect x="-10.50" y="4.86" width="21.00" height="3.24" rx="1.2" fill="url(#gShine)"/>
</g>
<g transform="translate(209.50,510.80)">
<rect x="-4.10" y="-13.30" width="8.20" height="26.60" rx="1.2" fill="url(#gS)" stroke="#a8a8a8" stroke-width=".6"/>
<rect x="-8.17" y="-4.42" width="16.34" height="8.83" fill="url(#gPw)" stroke="#38204f" stroke-width=".95"/>
<rect x="-9.50" y="-9.80" width="19.00" height="5.68" rx=".9" fill="url(#gP)" stroke="#38204f" stroke-width=".95"/>
<rect x="-9.50" y="4.12" width="19.00" height="5.68" rx=".9" fill="url(#gP)" stroke="#38204f" stroke-width=".95"/>
<rect x="-9.50" y="-9.80" width="19.00" height="5.68" rx="1.2" fill="url(#gShine)"/>
<rect x="-9.50" y="4.12" width="19.00" height="5.68" rx="1.2" fill="url(#gShine)"/>
</g>
<line x1="243.0" y1="455.8" x2="222.8" y2="460.4" stroke="#000" stroke-width="1.1" marker-end="url(#ah)"/>
<circle cx="253.7" cy="453.8" r="10.6" fill="#fff" stroke="#000" stroke-width="1.25"/>
<text transform="translate(253.20,457.70) scale(1.12,1)" text-anchor="middle" font-size="11.0" font-weight="bold" font-style="italic" stroke="#000" stroke-width=".9" stroke-linejoin="miter">13</text>
<line x1="236.5" y1="506.4" x2="219.8" y2="510.0" stroke="#000" stroke-width="1.1" marker-end="url(#ah)"/>
<circle cx="247.2" cy="504.6" r="10.6" fill="#fff" stroke="#000" stroke-width="1.25"/>
<text transform="translate(246.70,508.50) scale(1.12,1)" text-anchor="middle" font-size="11.0" font-weight="bold" font-style="italic" stroke="#000" stroke-width=".9" stroke-linejoin="miter">14</text>
<g transform="translate(258.90,561.60) rotate(90)">
<rect x="0.00" y="0.00" width="0.00" height="0.00" rx="1.2" fill="url(#gS)" stroke="#a8a8a8" stroke-width=".6"/>
<rect x="-5.98" y="-4.72" width="11.96" height="9.43" fill="url(#gPl)" stroke="#4a2f68" stroke-width=".95"/>
<rect x="-6.50" y="-6.90" width="13.00" height="2.48" rx=".9" fill="url(#gPl)" stroke="#4a2f68" stroke-width=".95"/>
<rect x="-6.50" y="4.42" width="13.00" height="2.48" rx=".9" fill="url(#gPl)" stroke="#4a2f68" stroke-width=".95"/>
<rect x="-6.50" y="-6.90" width="13.00" height="2.48" rx="1.2" fill="url(#gShine)"/>
<rect x="-6.50" y="4.42" width="13.00" height="2.48" rx="1.2" fill="url(#gShine)"/>
</g>
<g transform="translate(342.40,561.60) rotate(90)">
<rect x="0.00" y="0.00" width="0.00" height="0.00" rx="1.2" fill="url(#gS)" stroke="#a8a8a8" stroke-width=".6"/>
<rect x="-5.98" y="-4.72" width="11.96" height="9.43" fill="url(#gPl)" stroke="#4a2f68" stroke-width=".95"/>
<rect x="-6.50" y="-6.90" width="13.00" height="2.48" rx=".9" fill="url(#gPl)" stroke="#4a2f68" stroke-width=".95"/>
<rect x="-6.50" y="4.42" width="13.00" height="2.48" rx=".9" fill="url(#gPl)" stroke="#4a2f68" stroke-width=".95"/>
<rect x="-6.50" y="-6.90" width="13.00" height="2.48" rx="1.2" fill="url(#gShine)"/>
<rect x="-6.50" y="4.42" width="13.00" height="2.48" rx="1.2" fill="url(#gShine)"/>
</g>
<line x1="289.8" y1="547.0" x2="266.8" y2="557.2" stroke="#000" stroke-width="1.1" marker-end="url(#ah)"/>
<line x1="311.0" y1="547.0" x2="335.0" y2="557.2" stroke="#000" stroke-width="1.1" marker-end="url(#ah)"/>
<circle cx="300.4" cy="544.0" r="10.6" fill="#fff" stroke="#000" stroke-width="1.25"/>
<text transform="translate(299.90,547.90) scale(1.12,1)" text-anchor="middle" font-size="11.0" font-weight="bold" font-style="italic" stroke="#000" stroke-width=".9" stroke-linejoin="miter">15</text>
<path d="M407.86,435.50 C409.28,436.68 409.70,436.44 412.11,439.04 C414.52,441.63 413.39,439.27 415.08,443.29 C416.78,447.30 417.30,445.65 417.21,451.08 C417.12,456.51 417.49,453.91 414.80,459.58 C412.11,465.24 413.34,463.16 409.14,468.07 C404.93,472.98 406.59,471.19 402.20,474.31 C397.80,477.42 398.04,476.38 395.96,477.42 L396.25,483.09 C399.08,482.10 399.55,482.90 404.75,480.11 C409.94,477.33 407.11,477.52 411.83,474.73 C416.55,471.95 414.66,473.08 418.91,471.76 C423.16,470.43 420.47,471.24 424.58,470.76 C428.68,470.29 429.01,470.48 431.23,470.34 L432.65,463.40 C431.19,462.60 430.67,463.68 428.26,460.99 C425.85,458.30 426.61,460.52 425.42,455.33 C424.24,450.13 425.66,451.55 424.72,445.41 C423.77,439.27 425.09,442.48 422.59,436.91 C420.09,431.34 419.00,431.44 417.21,428.70Z" fill="#b9b9b9" stroke="#333" stroke-width="1"/>
<path d="M415.37,434.79 C417.02,437.62 418.39,437.38 420.33,443.29 C422.26,449.19 421.55,446.36 421.18,452.49 C420.80,458.63 419.00,457.21 419.19,461.70 C419.38,466.19 417.82,464.20 421.74,465.95 C425.66,467.70 427.88,466.61 430.95,466.94" fill="none" stroke="#cdcdcd" stroke-width="5.2" stroke-linecap="round"/>
<path d="M420.33,456.74 C418.91,459.81 419.85,460.52 416.08,465.95 C412.30,471.38 415.13,468.31 408.99,473.03 C402.86,477.75 401.44,477.75 397.66,480.11" fill="none" stroke="#cdcdcd" stroke-width="4.2" stroke-linecap="round"/>
<path d="M415.37,434.79 C417.02,437.62 418.39,437.38 420.33,443.29 C422.26,449.19 421.55,446.36 421.18,452.49 C420.80,458.63 419.00,457.21 419.19,461.70 C419.38,466.19 417.82,464.20 421.74,465.95 C425.66,467.70 427.88,466.61 430.95,466.94" fill="none" stroke="#e0e0e0" stroke-width="3.4" stroke-linecap="round"/>
<path d="M420.33,456.74 C418.91,459.81 419.85,460.52 416.08,465.95 C412.30,471.38 415.13,468.31 408.99,473.03 C402.86,477.75 401.44,477.75 397.66,480.11" fill="none" stroke="#e0e0e0" stroke-width="2.7" stroke-linecap="round"/>
<path d="M415.37,434.79 C417.02,437.62 418.39,437.38 420.33,443.29 C422.26,449.19 421.55,446.36 421.18,452.49 C420.80,458.63 419.00,457.21 419.19,461.70 C419.38,466.19 417.82,464.20 421.74,465.95 C425.66,467.70 427.88,466.61 430.95,466.94" fill="none" stroke="#f2f2f2" stroke-width="1.6" stroke-linecap="round"/>
<path d="M420.33,456.74 C418.91,459.81 419.85,460.52 416.08,465.95 C412.30,471.38 415.13,468.31 408.99,473.03 C402.86,477.75 401.44,477.75 397.66,480.11" fill="none" stroke="#f2f2f2" stroke-width="1.3" stroke-linecap="round"/>
<path d="M445.1,469.5 L450.3,471.7 M444.4,472.3 L449.8,474.2" stroke="#333" stroke-width="1" fill="none"/>
<g transform="translate(409.40,424.90) rotate(50.0)">
<rect x="-3.10" y="-10.70" width="6.20" height="21.40" rx="1.2" fill="url(#gS)" stroke="#a8a8a8" stroke-width=".6"/>
<rect x="-6.72" y="-3.98" width="13.45" height="7.96" fill="url(#gDw)" stroke="#111" stroke-width=".95"/>
<rect x="-8.20" y="-8.00" width="16.40" height="4.32" rx=".9" fill="url(#gD)" stroke="#111" stroke-width=".95"/>
<rect x="-8.20" y="3.68" width="16.40" height="4.32" rx=".9" fill="url(#gD)" stroke="#111" stroke-width=".95"/>
<rect x="-8.20" y="-8.00" width="16.40" height="4.32" rx="1.2" fill="url(#gShine)"/>
<rect x="-8.20" y="3.68" width="16.40" height="4.32" rx="1.2" fill="url(#gShine)"/>
</g>
<g transform="translate(388.50,479.70) rotate(8.0)">
<rect x="-3.20" y="-11.20" width="6.40" height="22.40" rx="1.2" fill="url(#gS)" stroke="#a8a8a8" stroke-width=".6"/>
<rect x="-6.89" y="-4.35" width="13.78" height="8.70" fill="url(#gDw)" stroke="#111" stroke-width=".95"/>
<rect x="-8.40" y="-8.80" width="16.80" height="4.75" rx=".9" fill="url(#gD)" stroke="#111" stroke-width=".95"/>
<rect x="-8.40" y="4.05" width="16.80" height="4.75" rx=".9" fill="url(#gD)" stroke="#111" stroke-width=".95"/>
<rect x="-8.40" y="-8.80" width="16.80" height="4.75" rx="1.2" fill="url(#gShine)"/>
<rect x="-8.40" y="4.05" width="16.80" height="4.75" rx="1.2" fill="url(#gShine)"/>
</g>
<g transform="translate(439.40,468.80) rotate(16.0)">
<rect x="-3.20" y="-11.40" width="6.40" height="22.80" rx="1.2" fill="url(#gS)" stroke="#a8a8a8" stroke-width=".6"/>
<rect x="-6.97" y="-4.35" width="13.94" height="8.70" fill="url(#gDw)" stroke="#111" stroke-width=".95"/>
<rect x="-8.50" y="-8.80" width="17.00" height="4.75" rx=".9" fill="url(#gD)" stroke="#111" stroke-width=".95"/>
<rect x="-8.50" y="4.05" width="17.00" height="4.75" rx=".9" fill="url(#gD)" stroke="#111" stroke-width=".95"/>
<rect x="-8.50" y="-8.80" width="17.00" height="4.75" rx="1.2" fill="url(#gShine)"/>
<rect x="-8.50" y="4.05" width="17.00" height="4.75" rx="1.2" fill="url(#gShine)"/>
</g>
<line x1="376.0" y1="423.4" x2="396.4" y2="425.0" stroke="#000" stroke-width="1.1" marker-end="url(#ah)"/>
<circle cx="365.0" cy="422.0" r="10.6" fill="#fff" stroke="#000" stroke-width="1.25"/>
<text transform="translate(364.50,425.90) scale(1.12,1)" text-anchor="middle" font-size="11.0" font-weight="bold" font-style="italic" stroke="#000" stroke-width=".9" stroke-linejoin="miter">10</text>
<line x1="365.4" y1="476.4" x2="379.4" y2="478.2" stroke="#000" stroke-width="1.1" marker-end="url(#ah)"/>
<circle cx="354.4" cy="473.6" r="10.6" fill="#fff" stroke="#000" stroke-width="1.25"/>
<text transform="translate(353.90,477.50) scale(1.12,1)" text-anchor="middle" font-size="11.0" font-weight="bold" font-style="italic" stroke="#000" stroke-width=".9" stroke-linejoin="miter">11</text>
<line x1="439.9" y1="441.0" x2="440.4" y2="455.2" stroke="#000" stroke-width="1.1" marker-end="url(#ah)"/>
<circle cx="438.8" cy="429.9" r="10.6" fill="#fff" stroke="#000" stroke-width="1.25"/>
<text transform="translate(438.30,433.80) scale(1.12,1)" text-anchor="middle" font-size="11.0" font-weight="bold" font-style="italic" stroke="#000" stroke-width=".9" stroke-linejoin="miter">12</text>
<text x="152.8" y="242.6" font-size="16.0" font-weight="bold" stroke="#000" stroke-width=".25" textLength="57.4" lengthAdjust="spacingAndGlyphs" fill="#000">UPPER</text>
<text x="391.2" y="242.3" font-size="15.0" font-weight="bold" stroke="#000" stroke-width=".25" textLength="57.0" lengthAdjust="spacingAndGlyphs" fill="#000">LOWER</text>
<text x="157.7" y="405.3" font-size="15.8" font-weight="bold" stroke="#000" stroke-width=".25" textLength="57.0" lengthAdjust="spacingAndGlyphs" fill="#000">UPPER</text>
<text x="390.5" y="405.5" font-size="14.9" font-weight="bold" stroke="#000" stroke-width=".25" textLength="57.3" lengthAdjust="spacingAndGlyphs" fill="#000">LOWER</text>
<rect x="217.7" y="14.9" width="164.6" height="30" rx="5.6" fill="#cdbbe0" stroke="#6a3587" stroke-width=".9"/>
<rect x="220" y="17.1" width="160" height="25.3" rx="3.8" fill="#7b3f99"/>
<defs><filter id="lo" x="-5%" y="-25%" width="110%" height="150%" color-interpolation-filters="sRGB"><feMorphology in="SourceAlpha" operator="dilate" radius="0.75" result="d"/><feOffset in="d" dx="0.9" dy="0.9" result="s"/><feMerge><feMergeNode in="s"/><feMergeNode in="d"/><feMergeNode in="SourceGraphic"/></feMerge></filter></defs>
<text aria-label="POWERFLEX" font-weight="bold" font-style="italic" stroke-linejoin="round" fill="#f3d013" stroke="#f3d013" stroke-width="2" filter="url(#lo)"><tspan x="220.40" y="42.2" font-size="35.6" textLength="20.42" lengthAdjust="spacingAndGlyphs">P</tspan><tspan x="240.30" y="38.1" font-size="26.0" textLength="17.70" lengthAdjust="spacingAndGlyphs">O</tspan><tspan x="256.60" y="38.1" font-size="26.0" textLength="25.77" lengthAdjust="spacingAndGlyphs">W</tspan><tspan x="284.20" y="38.1" font-size="26.0" textLength="14.74" lengthAdjust="spacingAndGlyphs">E</tspan><tspan x="299.50" y="38.1" font-size="26.0" textLength="19.72" lengthAdjust="spacingAndGlyphs">R</tspan><tspan x="318.50" y="38.1" font-size="26.0" textLength="14.13" lengthAdjust="spacingAndGlyphs">F</tspan><tspan x="332.80" y="38.1" font-size="26.0" textLength="15.41" lengthAdjust="spacingAndGlyphs">L</tspan><tspan x="346.40" y="38.1" font-size="26.0" textLength="14.86" lengthAdjust="spacingAndGlyphs">E</tspan><tspan x="362.00" y="38.1" font-size="26.0" textLength="15.09" lengthAdjust="spacingAndGlyphs">X</tspan></text>
<text font-size="11.9" font-weight="bold" font-style="italic" stroke="#000" stroke-width=".55" fill="#000">
<tspan x="227.9" y="57.8" textLength="17.1" lengthAdjust="spacingAndGlyphs">XF,</tspan> <tspan x="251.5" y="57.8" textLength="21.9" lengthAdjust="spacingAndGlyphs">XFR</tspan> <tspan x="279.0" y="57.8" textLength="5.0" lengthAdjust="spacingAndGlyphs">-</tspan> <tspan x="288.0" y="57.8" textLength="29.4" lengthAdjust="spacingAndGlyphs">X250</tspan> <tspan x="323.6" y="57.8" textLength="50.2" lengthAdjust="spacingAndGlyphs">(2008-)</tspan></text>
</svg></body></html>
